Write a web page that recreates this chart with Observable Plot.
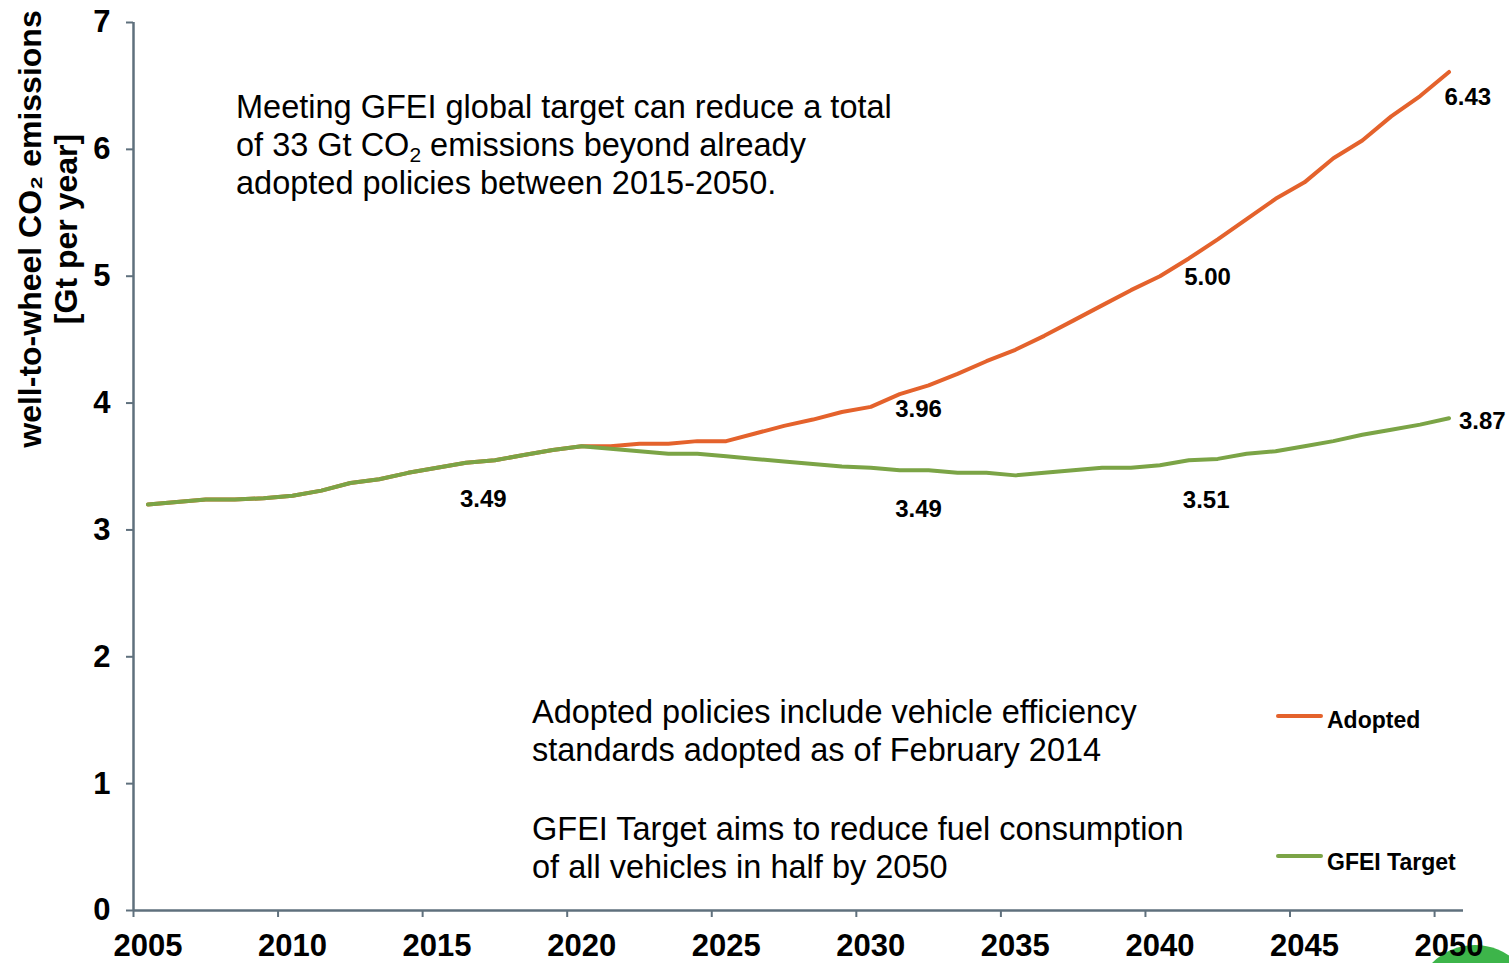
<!DOCTYPE html>
<html>
<head>
<meta charset="utf-8">
<script src="https://cdn.jsdelivr.net/npm/d3@7"></script>
<script src="https://cdn.jsdelivr.net/npm/@observablehq/plot@0.6"></script>
<style>
  html, body { margin: 0; padding: 0; background: #fff; }
  #wrap { position: relative; width: 1509px; height: 963px; overflow: hidden; font-family: "Liberation Sans", Arial, sans-serif; }
  #chart { position: absolute; left: 0; top: 0; }
  .note { position: absolute; font-size: 32.5px; line-height: 38px; color: #000; white-space: nowrap; }
  .note sub { font-size: 21px; vertical-align: -6px; line-height: 0; }
  #ytitle { position: absolute; width: 520px; height: 72px; left: -212px; top: 193px; transform: rotate(-90deg); transform-origin: 50% 50%;
            text-align: center; font-weight: bold; font-size: 32px; line-height: 36px; white-space: nowrap; }
  .leg { position: absolute; font-weight: bold; font-size: 23px; white-space: nowrap; }
  .sw { position: absolute; height: 4px; border-radius: 2px; }
  #logo { position: absolute; left: 1415px; top: 945px; width: 120px; height: 120px; border-radius: 50%; background: #3db54a; }
</style>
</head>
<body>
<div id="wrap">
  <div id="logo"></div>
  <div id="chart"></div>
  <div id="ytitle">well-to-wheel CO₂ emissions<br>[Gt per year]</div>
  <div class="note" style="left:236px; top:88px;">Meeting GFEI global target can reduce a total<br>of 33 Gt CO<sub>2</sub> emissions beyond already<br>adopted policies between 2015-2050.</div>
  <div class="note" style="left:532px; top:693px;">Adopted policies include vehicle efficiency<br>standards adopted as of February 2014</div>
  <div class="note" style="left:532px; top:810px;">GFEI Target aims to reduce fuel consumption<br>of all vehicles in half by 2050</div>
  <div class="sw" style="left:1276px; top:714px; width:47px; background:#e4622c;"></div>
  <div class="leg" style="left:1327px; top:707px;">Adopted</div>
  <div class="sw" style="left:1276px; top:854px; width:47px; background:#7ba446;"></div>
  <div class="leg" style="left:1327px; top:849px;">GFEI Target</div>
</div>
<script>
// Years (categories)
const years = [2005,2006,2007,2008,2009,2010,2011,2012,2013,2014,2015,2016,2017,2018,2019,2020,
               2021,2022,2023,2024,2025,2026,2027,2028,2029,2030,2031,2032,2033,2034,2035,
               2036,2037,2038,2039,2040,2041,2042,2043,2044,2045,2046,2047,2048,2049,2050];
// Adopted policies, Gt CO2 per year
const adopted = [3.20,3.22,3.24,3.24,3.25,3.27,3.31,3.37,3.40,3.45,3.49,3.53,3.55,3.59,3.63,3.66,
                 3.66,3.68,3.68,3.70,3.70,3.76,3.82,3.87,3.93,3.97,4.07,4.14,4.23,4.33,4.42,
                 4.53,4.65,4.77,4.89,5.00,5.14,5.29,5.45,5.61,5.74,5.93,6.07,6.26,6.42,6.61];
// GFEI Target, Gt CO2 per year
const gfei = [3.20,3.22,3.24,3.24,3.25,3.27,3.31,3.37,3.40,3.45,3.49,3.53,3.55,3.59,3.63,3.66,
              3.64,3.62,3.60,3.60,3.58,3.56,3.54,3.52,3.50,3.49,3.47,3.47,3.45,3.45,3.43,
              3.45,3.47,3.49,3.49,3.51,3.55,3.56,3.60,3.62,3.66,3.70,3.75,3.79,3.83,3.88];
// Value labels as printed on the chart
const labelText = ["3.49","3.96","3.49","5.00","3.51","6.43","3.87"];
const labelYear = [2016.6,2031.65,2031.65,2041.65,2041.6,2050.65,2051.15];
const labelValue = [3.24,3.95,3.16,4.99,3.23,6.41,3.86];
// Axis ticks
const xTickLabels = [2005,2010,2015,2020,2025,2030,2035,2040,2045,2050];
const xTickMarks = [2004.5,2009.5,2014.5,2019.5,2024.5,2029.5,2034.5,2039.5,2044.5,2049.5];
const yTicks = [0,1,2,3,4,5,6,7];

const axisColor = "#5f707d";
const orange = "#e4622c";
const green = "#7ba446";

const rowsA = years.map((y, i) => ({year: y, value: adopted[i]}));
const rowsG = years.map((y, i) => ({year: y, value: gfei[i]}));
const labels = labelText.map((t, i) => ({text: t, year: labelYear[i], value: labelValue[i]}));

const chart = Plot.plot({
  width: 1509,
  height: 963,
  marginLeft: 133,
  marginRight: 46,
  marginTop: 22,
  marginBottom: 53,
  x: {domain: [2004.5, 2050.5]},
  y: {domain: [0, 7]},
  style: {background: "transparent", fontFamily: "'Liberation Sans', Arial, sans-serif", overflow: "visible"},
  marks: [
    Plot.axisX(xTickMarks, {tickSize: 7, text: null, stroke: axisColor, strokeWidth: 2, label: null}),
    Plot.axisX(xTickLabels, {tickSize: 0, tickPadding: 23, tickFormat: d => String(d), fontSize: 31, fontWeight: "bold", fill: "#000", label: null}),
    Plot.axisY(yTicks, {tickSize: 7, tickPadding: 16, tickFormat: d => String(d), fontSize: 31, fontWeight: "bold", fill: "#000", stroke: axisColor, strokeWidth: 2, label: null}),
    Plot.ruleY([0], {stroke: axisColor, strokeWidth: 2.5}),
    Plot.ruleX([2004.5], {y1: 0, y2: 7, stroke: axisColor, strokeWidth: 2.5}),
    Plot.line(rowsA, {x: "year", y: "value", stroke: orange, strokeWidth: 4, strokeLinecap: "round", strokeLinejoin: "round"}),
    Plot.line(rowsG, {x: "year", y: "value", stroke: green, strokeWidth: 4, strokeLinecap: "round", strokeLinejoin: "round"}),
    Plot.text(labels, {x: "year", y: "value", text: "text", fontSize: 24, fontWeight: "bold", fill: "#000"})
  ]
});
document.getElementById("chart").appendChild(chart);
</script>
</body>
</html>
